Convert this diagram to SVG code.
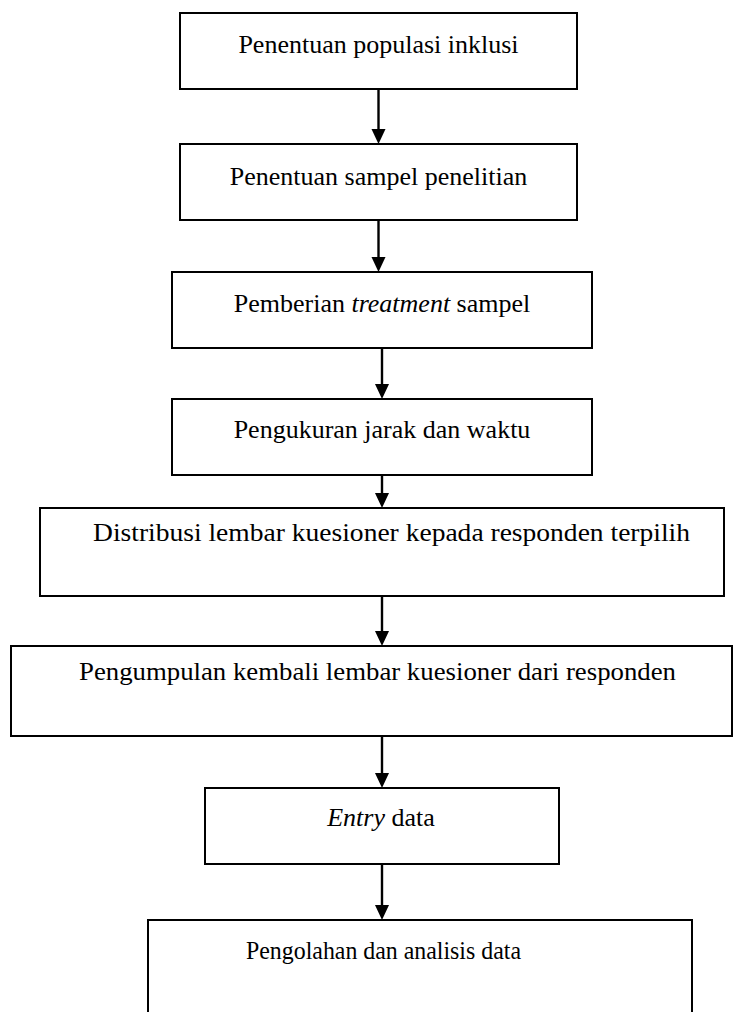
<svg xmlns="http://www.w3.org/2000/svg" width="733" height="1012" viewBox="0 0 733 1012">
<defs>
<style>
.box{fill:#fff;stroke:#000;stroke-width:2}
.t{font-family:"Liberation Serif","Times New Roman",serif;font-size:26px;fill:#000;text-anchor:middle}
.c{stroke:#000;stroke-width:2.4;fill:none}
.h{fill:#000;stroke:none}
</style>
</defs>
<rect width="733" height="1012" fill="#fff"/>
<g id="n1"><rect class="box" x="180" y="13" width="397" height="76"/><text class="t" x="378.5" y="53">Penentuan populasi inklusi</text></g>
<g id="n2"><rect class="box" x="180" y="144" width="397" height="76"/><text class="t" x="378.5" y="185">Penentuan sampel penelitian</text></g>
<g id="n3"><rect class="box" x="172" y="272" width="420" height="76"/><text class="t" x="382" y="312">Pemberian <tspan font-style="italic">treatment</tspan> sampel</text></g>
<g id="n4"><rect class="box" x="172" y="399" width="420" height="76"/><text class="t" x="382" y="438">Pengukuran jarak dan waktu</text></g>
<g id="n5"><rect class="box" x="40" y="508" width="684" height="88"/><text class="t" x="391.5" y="541" textLength="597" lengthAdjust="spacingAndGlyphs">Distribusi lembar kuesioner kepada responden terpilih</text></g>
<g id="n6"><rect class="box" x="11" y="646" width="721" height="90"/><text class="t" x="377.5" y="680" textLength="597" lengthAdjust="spacingAndGlyphs">Pengumpulan kembali lembar kuesioner dari responden</text></g>
<g id="n7"><rect class="box" x="205" y="788" width="354" height="76"/><text class="t" x="381" y="826"><tspan font-style="italic">Entry</tspan> data</text></g>
<g id="n8"><rect class="box" x="148" y="920" width="544" height="110"/><text class="t" x="383.5" y="959" textLength="275" lengthAdjust="spacingAndGlyphs">Pengolahan dan analisis data</text></g>
<g id="connectors">
<line class="c" x1="378.5" y1="89" x2="378.5" y2="131"/><polygon class="h" points="371.5,129 385.5,129 378.5,144"/>
<line class="c" x1="378.5" y1="220" x2="378.5" y2="259"/><polygon class="h" points="371.5,257 385.5,257 378.5,272"/>
<line class="c" x1="382" y1="348" x2="382" y2="386"/><polygon class="h" points="375,384 389,384 382,399"/>
<line class="c" x1="382" y1="475" x2="382" y2="495"/><polygon class="h" points="375,493 389,493 382,508"/>
<line class="c" x1="382" y1="596" x2="382" y2="633"/><polygon class="h" points="375,631 389,631 382,646"/>
<line class="c" x1="382" y1="736" x2="382" y2="775"/><polygon class="h" points="375,773 389,773 382,788"/>
<line class="c" x1="382" y1="864" x2="382" y2="907"/><polygon class="h" points="375,905 389,905 382,920"/>
</g>
</svg>
